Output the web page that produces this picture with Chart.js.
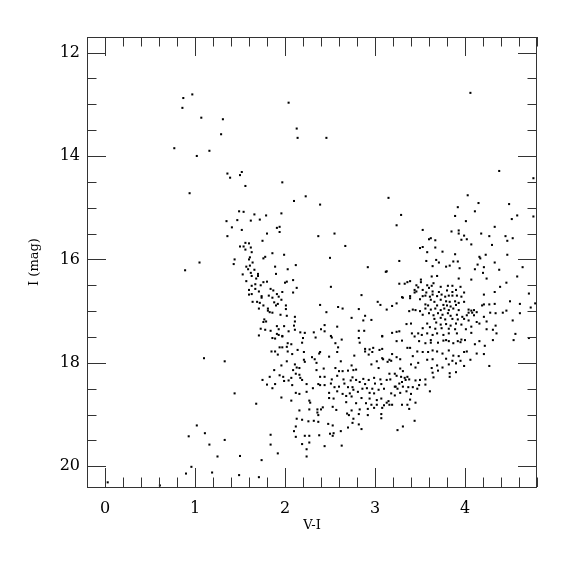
<!DOCTYPE html>
<html>
<head>
<meta charset="utf-8">
<script src="https://cdn.jsdelivr.net/npm/chart.js@4.4.1/dist/chart.umd.min.js"></script>
<style>
  html, body { margin: 0; padding: 0; background: #fff; }
  #wrap { width: 575px; height: 575px; }
</style>
</head>
<body>
<div id="wrap"><canvas id="cmd"></canvas></div>
<script>
// star positions: [V-I, I]
const brightSparse = [
  [0.87,12.88],[0.97,12.81],[0.86,13.07],[1.07,13.26],[1.31,13.29],[1.29,13.58],[0.77,13.85],[1.16,13.9],[1.02,14.0],[1.36,14.34],[1.39,14.42],
  [2.04,12.97],[2.13,13.47],[2.14,13.65],[2.46,13.65],[1.52,14.31],[1.5,14.37],[1.56,14.58],[1.97,14.51],
  [4.06,12.78],[4.38,14.29],[4.76,14.43],
  [0.94,14.72],[1.35,15.26],[1.41,15.38],[1.36,15.55],[1.44,16.0],[1.43,16.09],[1.05,16.06],[0.89,16.21]
];
const middleBranch = [
  [2.23,14.78],[2.10,14.87],[2.39,14.94],[1.49,15.07],[1.54,15.08],[1.66,15.13],[1.79,15.15],[1.96,15.11],[1.47,15.24],[1.62,15.25],
  [1.72,15.23],[1.91,15.39],[1.94,15.37],[1.94,15.47],[1.52,15.43],[1.80,15.5],[2.37,15.55],[2.55,15.5],[1.75,15.64],[1.56,15.68],
  [1.6,15.69],[1.5,15.75],[1.54,15.75],[1.62,15.77],[1.56,15.81],[2.67,15.74],[1.63,15.86],[1.86,15.88],[1.99,15.91],[1.78,15.95],
  [1.76,15.98],[1.61,15.96],[1.6,16.0],[2.5,15.97],[1.64,16.06],[2.12,16.11],[1.57,16.14],[1.61,16.12],[1.89,16.14],[2.92,16.15],
  [3.12,16.24],[2.03,16.19],[1.66,16.2],[1.59,16.19],[1.62,16.26],[1.7,16.28],[1.53,16.29],[1.9,16.28],[1.63,16.32],[1.7,16.32],
  [1.68,16.37],[2.09,16.4],[1.57,16.42],[1.8,16.43],[1.76,16.44],[2.02,16.43],[2.0,16.45],[1.67,16.48],[1.63,16.51],[1.73,16.5],
  [2.13,16.55],[2.51,16.53],[1.67,16.57],[1.84,16.57],[1.6,16.59],[1.87,16.6],[1.71,16.62],[1.97,16.63],[2.09,16.64],[1.6,16.68],
  [1.63,16.67],[1.91,16.67],[2.85,16.69],[1.82,16.7],[1.74,16.71],[1.93,16.72],[1.86,16.74],[1.74,16.74],[1.96,16.78],[1.64,16.82],
  [1.69,16.82],[1.88,16.83],[1.92,16.86],[2.01,16.89],[1.72,16.84],[1.76,16.89],[2.39,16.88],[3.03,16.82],[3.06,16.88],[1.9,16.89],
  [1.71,16.95],[1.81,16.95],[2.01,16.96],[2.59,16.92],[2.64,16.95],[2.82,16.96],[1.81,16.99],[1.83,17.02],[1.86,17.03],[2.46,17.02],
  [1.95,17.07],[2.02,17.09],[2.89,17.09],[2.74,17.13],[2.11,17.11],[1.77,17.16],[2.96,17.17],[2.87,17.18],[1.76,17.21],[1.79,17.2],
  [2.11,17.2],[2.44,17.27],[1.91,17.29],[1.99,17.29],[2.1,17.28],[2.58,17.3],[1.73,17.34],[1.78,17.36],[1.84,17.38],[1.93,17.35],
  [2.04,17.39],[2.11,17.36],[2.17,17.41],[2.22,17.42],[2.32,17.41],[2.4,17.35],[2.44,17.39],[2.82,17.38],[2.88,17.38],[1.91,17.44],
  [1.93,17.46],[1.97,17.48],[1.71,17.47],[2.51,17.48],[3.08,17.48]
];
const redUpper = [
  [3.15,14.81],[4.03,14.76],[4.15,14.91],[4.49,14.93],[3.92,14.99],[4.11,15.07],[3.29,15.14],[3.89,15.16],[4.58,15.15],[4.76,15.17],
  [4.52,15.22],[4.01,15.26],[3.24,15.34],[4.33,15.37],[3.53,15.43],[3.85,15.46],[3.93,15.44],[3.93,15.5],[3.99,15.54],[4.18,15.5],
  [4.27,15.55],[4.45,15.55],[4.53,15.59],[4.47,15.64],[3.6,15.61],[3.62,15.59],[3.67,15.63],[3.96,15.62],[4.02,15.61],[4.07,15.71],
  [4.3,15.72],[3.53,15.76],[3.5,15.78],[3.67,15.77],[3.58,15.86],[3.75,15.85],[3.89,15.9],[4.16,15.95],[4.17,15.98],[4.23,15.91],
  [4.47,15.91],[3.27,16.03],[3.57,16.03],[3.68,16.01],[3.71,16.06],[3.87,16.04],[3.92,16.04],[4.33,16.06],[3.64,16.13],[3.79,16.14],
  [3.83,16.12],[4.14,16.1],[4.21,16.15],[4.64,16.15],[3.94,16.17],[4.11,16.19],[4.38,16.2],[4.2,16.26],[3.13,16.23],[3.63,16.33],
  [3.69,16.32],[3.93,16.37],[4.07,16.39],[4.24,16.37],[4.58,16.33],[3.51,16.39],[3.39,16.42],[3.36,16.44],[3.33,16.47],[3.27,16.47]
];
const redClump = [
  [3.51,16.44],[3.58,16.5],[3.65,16.46],[3.46,16.5],[3.48,16.54],[3.44,16.59],[3.44,16.64],[3.46,16.62],[3.53,16.59],[3.6,16.55],
  [3.63,16.51],[3.73,16.53],[3.81,16.51],[3.86,16.51],[3.95,16.53],[4.39,16.53],[4.46,16.45],[3.57,16.64],[3.64,16.62],[3.71,16.63],
  [3.8,16.6],[3.86,16.63],[3.9,16.59],[3.99,16.64],[4.33,16.63],[4.71,16.66],[3.31,16.74],[3.3,16.73],[3.39,16.71],[3.39,16.75],
  [3.53,16.71],[3.56,16.7],[3.61,16.72],[3.64,16.68],[3.69,16.71],[3.74,16.68],[3.78,16.72],[3.82,16.7],[3.86,16.7],[3.91,16.7],
  [3.96,16.72],[4.21,16.68],[4.27,16.87],[4.5,16.81],[4.78,16.85],[3.5,16.77],[3.62,16.78],[3.66,16.82],[3.73,16.78],[3.79,16.81],
  [3.83,16.82],[3.89,16.81],[3.93,16.84],[3.99,16.82],[3.24,16.85],[3.19,16.9],[3.56,16.87],[3.59,16.89],[3.69,16.89],[3.76,16.88],
  [3.8,16.89],[3.84,16.91],[3.9,16.88],[4.19,16.89],[4.21,16.87],[4.33,16.86],[4.61,16.86],[4.73,16.93],[3.13,16.97],[3.42,16.97],
  [3.45,16.98],[3.5,17.0],[3.38,17.0],[3.56,16.95],[3.62,16.97],[3.67,16.95],[3.73,16.98],[3.77,16.95],[3.82,16.98],[3.87,16.95],
  [3.93,16.98],[4.04,16.97],[4.07,16.99],[4.1,16.98],[4.04,17.03],[4.08,17.03],[4.13,17.02],[4.28,17.03],[4.34,17.04],[4.42,17.03],
  [4.46,16.99],[4.61,17.04],[3.53,17.07],[3.6,17.04],[3.65,17.08],[3.7,17.04],[3.75,17.07],[3.81,17.04],[3.84,17.09],[3.91,17.07],
  [3.97,17.11],[4.02,17.08],[4.1,17.08],[4.21,17.11],[3.66,17.15],[3.73,17.13],[3.78,17.16],[3.86,17.15],[3.92,17.16],[3.99,17.15],
  [4.04,17.18],[4.13,17.21],[4.16,17.24],[4.24,17.2],[4.53,17.18],[3.35,17.25],[3.4,17.24],[3.58,17.24],[3.68,17.22],[3.73,17.26],
  [3.79,17.25],[3.84,17.28],[3.9,17.24],[3.96,17.26],[4.07,17.3],[4.34,17.28],[3.53,17.33],[3.61,17.31],[3.67,17.34],[3.74,17.33],
  [3.82,17.34],[3.89,17.35],[4.01,17.35],[4.24,17.35],[4.31,17.36],[3.19,17.42],[3.24,17.4],[3.27,17.39],[3.41,17.43],[3.48,17.43],
  [3.52,17.46],[3.58,17.43],[3.64,17.46],[3.69,17.43],[3.76,17.46],[3.82,17.43],[3.91,17.43],[4.07,17.42],[4.35,17.43],[4.56,17.44]
];
const redLower = [
  [3.24,17.58],[3.3,17.57],[3.44,17.49],[3.49,17.58],[3.56,17.62],[3.62,17.56],[3.62,17.61],[3.7,17.61],[3.76,17.57],[3.79,17.56],
  [3.82,17.58],[3.87,17.62],[3.92,17.58],[3.96,17.55],[4.0,17.56],[3.95,17.6],[4.11,17.64],[4.16,17.58],[4.22,17.67],[4.31,17.56],
  [4.54,17.56],[4.71,17.52],[3.36,17.71],[3.39,17.71],[3.47,17.78],[3.53,17.79],[3.59,17.79],[3.64,17.76],[3.69,17.78],[3.75,17.82],
  [3.82,17.76],[3.87,17.86],[3.93,17.87],[3.99,17.79],[4.02,17.78],[4.13,17.82],[4.21,17.83],[3.19,17.83],[3.24,17.89],[3.42,17.87],
  [3.58,17.94],[3.64,17.93],[3.79,17.92],[3.86,17.96],[3.95,17.96],[4.06,17.94],[3.16,17.94],[3.18,17.96],[3.14,17.98],[3.28,17.93],
  [3.4,18.03],[3.45,18.09],[3.48,18.0],[3.63,18.1],[3.69,18.05],[3.75,18.09],[3.82,18.03],[3.9,18.01],[3.99,18.06],[4.27,18.06],
  [3.28,18.11],[3.31,18.16],[3.16,18.21],[3.22,18.21],[3.24,18.25],[3.13,18.33],[3.17,18.32],[3.29,18.27],[3.33,18.29],[3.36,18.27],
  [3.38,18.32],[3.45,18.34],[3.5,18.33],[3.56,18.32],[3.65,18.28],[3.64,18.19],[3.7,18.15],[3.83,18.2],[3.83,18.27],[3.9,18.18],
  [3.3,18.37],[3.34,18.33],[3.27,18.4],[3.31,18.46],[3.37,18.47],[3.42,18.47],[3.23,18.46],[3.25,18.5],[3.22,18.46],[3.49,18.43],
  [3.47,18.5],[3.56,18.42],[3.61,18.55],[3.18,18.59],[3.22,18.63],[3.28,18.58],[3.4,18.6],[3.35,18.55],[3.15,18.74],[3.13,18.77],
  [3.16,18.81],[3.19,18.81],[3.39,18.71],[3.45,18.77],[3.3,18.81],[3.36,18.81],[3.38,18.89],[3.44,19.12],[3.31,19.23],[3.25,19.3]
];
const lowerBranch = [
  [1.86,17.52],[1.89,17.53],[1.97,17.49],[2.2,17.52],[2.34,17.51],[2.52,17.51],[2.63,17.55],[2.82,17.52],[3.08,17.49],[2.03,17.62],
  [2.07,17.64],[2.19,17.61],[2.56,17.62],[2.83,17.61],[1.94,17.7],[1.97,17.7],[2.02,17.69],[2.14,17.75],[2.59,17.7],[2.89,17.73],
  [2.89,17.78],[2.94,17.74],[2.98,17.71],[3.05,17.75],[3.08,17.73],[1.85,17.78],[1.89,17.78],[2.03,17.78],[2.08,17.83],[2.21,17.79],
  [2.38,17.82],[2.39,17.79],[2.58,17.79],[2.97,17.79],[1.92,17.84],[2.3,17.89],[2.49,17.88],[2.77,17.86],[2.93,17.84],[3.08,17.91],
  [3.09,17.93],[2.21,17.94],[2.22,17.98],[2.33,17.93],[2.35,18.0],[2.02,17.97],[2.62,17.97],[3.02,17.97],[2.11,18.03],[2.13,18.09],
  [2.16,18.1],[2.09,18.14],[1.88,18.14],[1.96,18.05],[2.43,18.11],[2.56,18.1],[2.74,18.05],[2.76,18.14],[2.79,18.13],[2.96,18.03],
  [3.04,18.1],[2.64,18.16],[2.6,18.16],[2.7,18.15],[2.35,18.14],[2.12,18.21],[2.16,18.23],[1.83,18.27],[1.94,18.24],[1.98,18.27],
  [2.07,18.29],[2.17,18.29],[2.39,18.27],[2.44,18.27],[2.58,18.25],[2.75,18.28],[2.87,18.31],[2.93,18.33],[2.99,18.29],[3.06,18.32],
  [1.75,18.33],[1.99,18.35],[2.04,18.34],[2.19,18.33],[2.52,18.32],[2.65,18.32],[2.73,18.34],[2.79,18.33],[1.8,18.42],[1.89,18.41],
  [2.08,18.43],[2.24,18.41],[2.37,18.41],[2.39,18.43],[2.44,18.43],[2.51,18.4],[2.66,18.4],[2.83,18.37],[2.89,18.41],[3.0,18.4],
  [3.07,18.41],[1.86,18.49],[2.31,18.49],[2.55,18.47],[2.6,18.46],[2.7,18.47],[2.75,18.47],[2.86,18.5],[2.91,18.49],[2.97,18.5],
  [3.04,18.52],[3.1,18.5],[2.12,18.58],[2.16,18.6],[2.24,18.56],[2.49,18.58],[2.58,18.55],[2.64,18.6],[2.72,18.59],[2.76,18.52],
  [2.81,18.56],[2.94,18.58],[2.99,18.59],[1.96,18.67],[2.07,18.73],[2.49,18.68],[2.54,18.69],[2.68,18.64],[2.74,18.65],[2.85,18.68],
  [2.94,18.69],[3.02,18.72],[3.07,18.69],[2.27,18.73],[2.28,18.77],[2.68,18.76],[2.79,18.78],[2.9,18.78],[2.96,18.81],[3.02,18.81],
  [3.1,18.82],[1.68,18.79],[2.42,18.86],[2.4,18.9],[2.36,18.9],[2.53,18.85],[2.57,18.91],[2.16,18.92],[2.27,18.9],[2.74,18.92],
  [2.83,18.9],[2.92,18.89],[2.99,18.87],[3.08,18.87],[2.36,18.96],[2.37,19.01],[2.69,18.98],[2.71,19.01],[2.82,18.99],[2.92,19.01],
  [3.07,18.99],[3.07,19.07],[2.13,19.08],[2.19,19.1],[2.26,19.13],[2.32,19.12],[2.37,19.14],[2.76,19.08],[2.75,19.16],[2.48,19.18],
  [2.53,19.21],[2.82,19.19],[2.12,19.23],[2.7,19.25],[2.85,19.28],[2.1,19.32],[2.62,19.32],[2.54,19.36],[2.5,19.37],[2.53,19.41],
  [2.12,19.43],[2.22,19.41],[2.27,19.41],[2.38,19.4],[1.84,19.39],[2.27,19.54],[2.19,19.57],[1.84,19.58],[2.44,19.61],[2.63,19.6],
  [2.24,19.67],[1.92,19.75],[2.24,19.81],[1.5,19.8],[1.74,19.88],[1.49,20.17],[1.71,20.21]
];
const faintBlue = [
  [1.1,17.91],[1.33,17.97],[1.44,18.59],[1.02,19.21],[0.93,19.42],[1.11,19.36],[1.16,19.58],[1.33,19.49],[1.25,19.81],[0.96,20.01],
  [0.9,20.14],[1.19,20.12],[0.03,20.31],[0.61,20.37]
];

const xTicks = [0, 1, 2, 3, 4];
const yTicks = [12, 14, 16, 18, 20];
const xRange = [-0.2, 4.8];
const yRange = [11.7, 20.4];

const allStars = [].concat(brightSparse, middleBranch, redUpper, redClump, redLower, lowerBranch, faintBlue)
  .map(([x, y]) => ({ x, y }));

const FONT = '"DejaVu Serif", "Liberation Serif", serif';
const INK = '#333';

// frame with inward ticks on all four sides, PGPLOT style
const frameTicks = {
  id: 'frameTicks',
  afterDatasetsDraw(chart) {
    const { ctx, chartArea: a, scales: { x, y } } = chart;
    ctx.save();
    ctx.strokeStyle = INK;
    ctx.lineWidth = 1;
    ctx.strokeRect(a.left + 0.5, a.top + 0.5, a.right - a.left - 1, a.bottom - a.top);
    ctx.beginPath();
    for (let i = -1; i <= 24; i++) {
      const v = i * 0.2;
      const len = Math.abs(v - Math.round(v)) < 1e-6 ? 19 : 9.5;
      const px = Math.round(x.getPixelForValue(v)) + 0.5;
      ctx.moveTo(px, a.bottom); ctx.lineTo(px, a.bottom - len);
      ctx.moveTo(px, a.top); ctx.lineTo(px, a.top + len);
    }
    for (let i = 24; i <= 40; i++) {
      const v = i * 0.5;
      const len = v % 2 === 0 ? 19 : 9.5;
      const py = Math.round(y.getPixelForValue(v)) + 0.5;
      ctx.moveTo(a.left, py); ctx.lineTo(a.left + len, py);
      ctx.moveTo(a.right, py); ctx.lineTo(a.right - len, py);
    }
    ctx.stroke();
    ctx.restore();
  }
};

new Chart(document.getElementById('cmd'), {
  type: 'scatter',
  data: {
    datasets: [{
      data: allStars,
      pointStyle: 'rect',
      pointRadius: 1.45,
      pointBorderWidth: 0,
      backgroundColor: '#000',
      borderColor: '#000'
    }]
  },
  options: {
    responsive: true,
    maintainAspectRatio: false,
    animation: false,
    layout: { padding: { left: 0, top: 37, right: 38, bottom: 0 } },
    plugins: { legend: { display: false }, tooltip: { enabled: false } },
    scales: {
      x: {
        type: 'linear',
        min: xRange[0], max: xRange[1],
        afterBuildTicks: s => { s.ticks = xTicks.map(v => ({ value: v })); },
        afterFit: s => { s.height = 88; },
        grid: { display: false, drawTicks: false },
        border: { display: false },
        ticks: { color: '#000', padding: 12, font: { family: FONT, size: 16 } },
        title: { display: true, text: 'V-I', color: '#000', font: { family: FONT, size: 13 }, padding: { top: 0, bottom: 42 } }
      },
      y: {
        type: 'linear',
        reverse: true,
        min: yRange[0], max: yRange[1],
        afterBuildTicks: s => { s.ticks = yTicks.map(v => ({ value: v })); },
        afterFit: s => { s.width = 87; },
        grid: { display: false, drawTicks: false },
        border: { display: false },
        ticks: { color: '#000', padding: 7, font: { family: FONT, size: 16 } },
        title: { display: true, text: 'I (mag)', color: '#000', font: { family: FONT, size: 13 }, padding: { top: 27, bottom: 0 } }
      }
    }
  },
  plugins: [frameTicks]
});
</script>
</body>
</html>
